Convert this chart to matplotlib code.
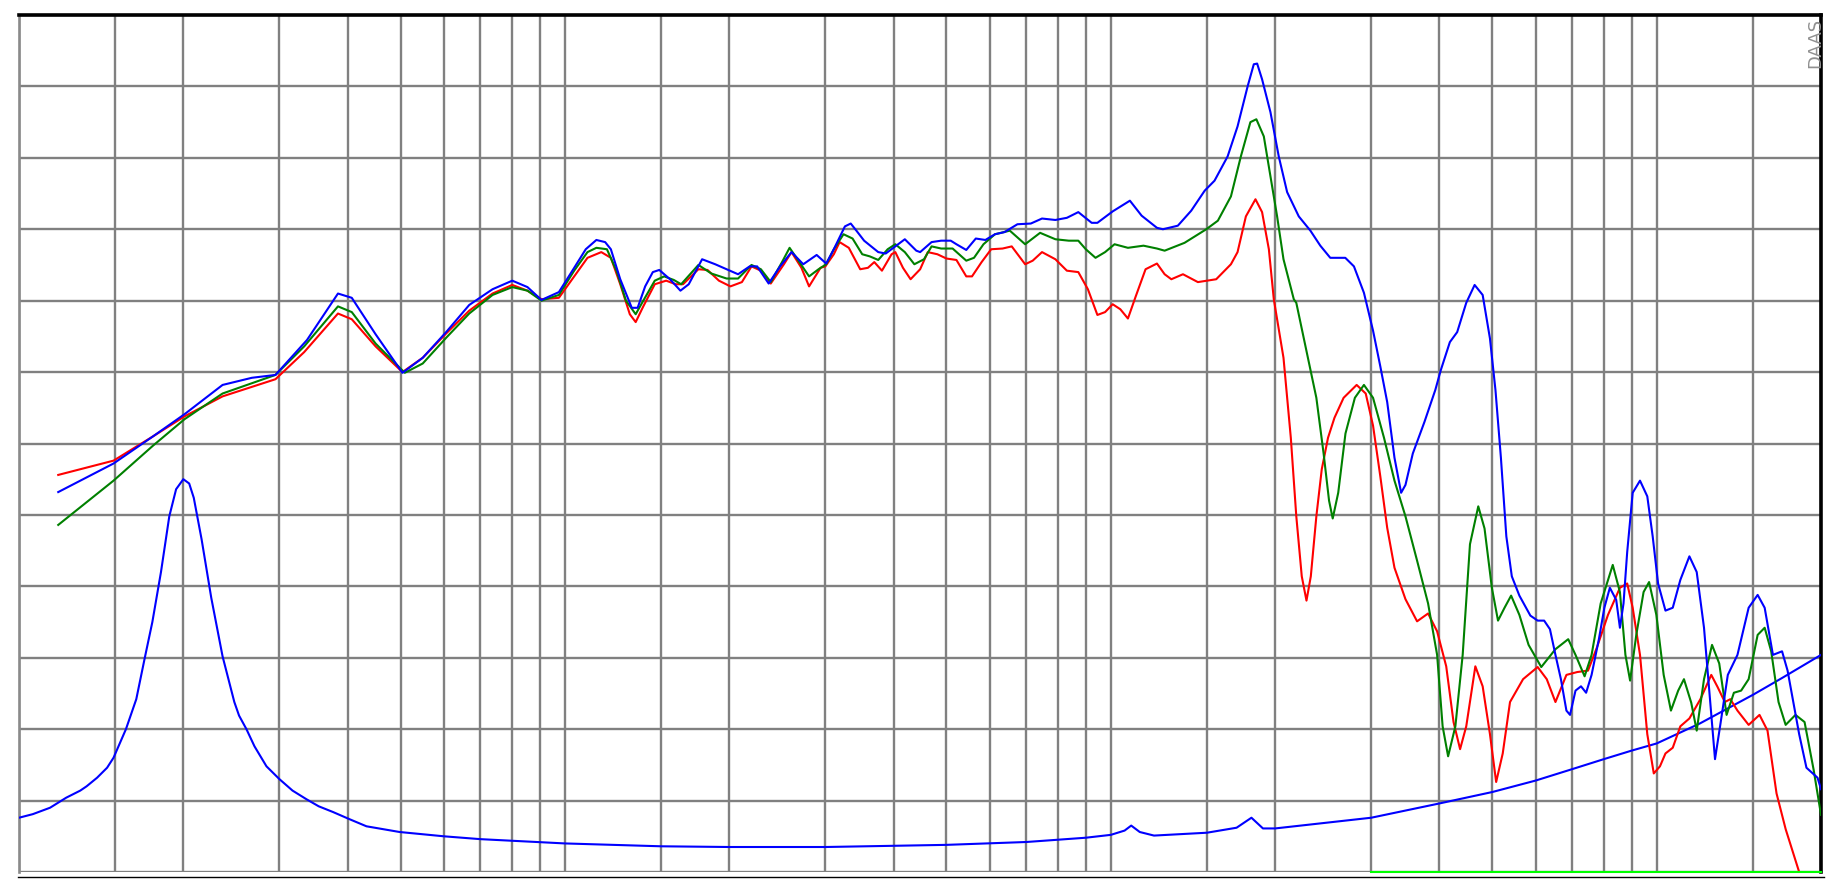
import matplotlib
matplotlib.use("Agg")
import matplotlib.pyplot as plt
from matplotlib.ticker import NullLocator, FixedLocator
from matplotlib.lines import Line2D

# ---------------- data (frequency in Hz, level in dB) ----------------
red_points = [
    (11.8, 67.8), (14.9, 68.8), (17.6, 70.5), (20.1, 71.9), (23.6, 73.3), (29.5, 74.5),
    (33.3, 76.4), (38.4, 79.1), (40.7, 78.7), (45.0, 76.8), (50.4, 75.0), (54.9, 76.0),
    (60.6, 77.7), (66.8, 79.3), (73.7, 80.5), (80.1, 81.1), (85.4, 80.7), (90.6, 80.1),
    (97.5, 80.2), (104, 81.7), (110, 83.0), (116.6, 83.4), (121.4, 83.0), (126.3, 81.15),
    (131.5, 79.05), (134.8, 78.5), (139.2, 79.6), (146.1, 81.15), (153.3, 81.4), (159.6, 81.15),
    (164.6, 81.15), (175.6, 82.2), (182.5, 82.15), (191.5, 81.4), (201, 81.0), (211, 81.3),
    (219.7, 82.4), (228.6, 82.1), (238.3, 81.2), (251.9, 82.55), (260.1, 83.4), (271.2, 82.3),
    (280.1, 81.0), (294, 82.3), (300, 82.4), (310.9, 83.25), (318.6, 84.1), (331.2, 83.7),
    (347.5, 82.2), (359, 82.3), (368.8, 82.7), (380.9, 82.1), (396.7, 83.25), (403, 83.4),
    (416.2, 82.3), (429.8, 81.5), (447.5, 82.2), (462.1, 83.4), (481.2, 83.25), (500, 82.95),
    (521.5, 82.85), (543.6, 81.7), (556.9, 81.7), (579.9, 82.7), (603.8, 83.6), (633.5, 83.65),
    (658.5, 83.8), (696.8, 82.55), (719.4, 82.8), (748.2, 83.4), (791.6, 82.9), (830.9, 82.1),
    (872, 82.0), (908, 80.8), (945.1, 79.0), (976.3, 79.2), (1008, 79.75), (1041, 79.4),
    (1075, 78.75), (1111, 80.3), (1158, 82.2), (1215, 82.6), (1255, 81.85), (1291, 81.5),
    (1356, 81.85), (1444, 81.3), (1560, 81.5), (1660, 82.55), (1707, 83.4), (1768, 85.9),
    (1841, 87.1), (1893, 86.2), (1948, 83.6), (1989, 80.1), (2072, 76.0), (2137, 70.4),
    (2187, 64.9), (2238, 60.7), (2283, 59.0), (2325, 60.7), (2380, 64.9), (2435, 68.2),
    (2500, 70.4), (2569, 71.8), (2670, 73.2), (2821, 74.1), (2931, 73.5), (3023, 71.25),
    (3117, 67.7), (3209, 64.1), (3309, 61.3), (3466, 59.1), (3640, 57.55), (3813, 58.1),
    (3961, 56.85), (4116, 54.4), (4245, 50.5), (4364, 48.6), (4479, 50.2), (4654, 54.4),
    (4800, 53.0), (4950, 49.65), (5081, 46.3), (5224, 48.3), (5387, 51.9), (5692, 53.5),
    (6053, 54.35), (6290, 53.5), (6525, 51.9), (6834, 53.8), (7155, 54.0), (7485, 54.1),
    (7777, 55.75), (8143, 58.0), (8564, 59.9), (8831, 60.2), (9038, 58.5), (9321, 55.2),
    (9612, 49.65), (9879, 46.9), (10140, 47.4), (10378, 48.3), (10702, 48.7), (11050, 50.2),
    (11480, 50.75), (12025, 52.1), (12590, 53.8), (12930, 52.95), (13330, 51.9), (13645, 52.1),
    (14060, 51.3), (14740, 50.3), (15430, 51.0), (15960, 49.9), (16580, 45.5), (17230, 43.0),
    (18240, 40.0),
]

green_points = [
    (11.8, 64.3), (14.9, 67.4), (17.6, 69.85), (20.1, 71.7), (23.6, 73.5), (29.5, 74.8),
    (33.3, 76.8), (38.4, 79.6), (40.7, 79.2), (45.0, 77.0), (50.9, 74.95), (54.9, 75.6),
    (60.6, 77.4), (66.8, 79.1), (73.7, 80.4), (80.1, 80.95), (85.4, 80.7), (90.6, 80.0),
    (97.5, 80.4), (104, 82.1), (110, 83.4), (114.2, 83.7), (119.4, 83.6), (124.3, 82.1),
    (129.4, 80.0), (134.8, 79.05), (139.2, 80.0), (146.1, 81.4), (152, 81.7), (158.3, 81.45),
    (163.3, 81.15), (175.6, 82.5), (185.5, 81.9), (197.8, 81.55), (207.6, 81.55), (219.7, 82.5),
    (228.6, 82.2), (238.3, 81.3), (249.9, 82.7), (258, 83.7), (268.9, 82.7), (280.1, 81.7),
    (291.5, 82.2), (301.1, 82.55), (310.9, 83.6), (323.9, 84.65), (336.5, 84.35), (350.5, 83.25),
    (361.9, 83.1), (375, 82.85), (390.2, 83.6), (403, 83.95), (419.5, 83.4), (436.7, 82.55),
    (454.8, 82.9), (469.6, 83.8), (489, 83.65), (513.2, 83.65), (543.6, 82.8), (561.6, 83.0),
    (584.5, 83.95), (613.5, 84.65), (653.3, 84.9), (696.8, 83.95), (742.2, 84.75), (791.6, 84.3),
    (837.6, 84.2), (872, 84.2), (900, 83.6), (937.6, 83.0), (976.3, 83.4), (1016, 83.95),
    (1075, 83.7), (1148, 83.85), (1215, 83.65), (1255, 83.5), (1365, 84.05), (1496, 85.0),
    (1571, 85.6), (1660, 87.3), (1731, 90.1), (1802, 92.5), (1848, 92.7), (1907, 91.5),
    (1961, 88.7), (2017, 85.9), (2072, 82.9), (2164, 80.1), (2187, 79.85), (2289, 76.25),
    (2380, 73.2), (2454, 69.3), (2511, 66.0), (2550, 64.75), (2610, 66.55), (2691, 70.7),
    (2800, 73.2), (2909, 74.1), (3023, 73.2), (3166, 70.4), (3309, 67.4), (3466, 64.9),
    (3640, 61.8), (3813, 58.8), (3961, 55.2), (4054, 50.2), (4149, 48.1), (4278, 50.2),
    (4412, 55.2), (4550, 62.95), (4712, 65.6), (4838, 64.05), (4990, 59.9), (5121, 57.6),
    (5264, 58.5), (5412, 59.35), (5604, 58.0), (5826, 55.9), (6146, 54.35), (6525, 55.6),
    (6886, 56.3), (7101, 55.2), (7379, 53.7), (7599, 55.2), (7896, 58.8), (8309, 61.5),
    (8564, 59.6), (8765, 55.2), (8940, 53.4), (9176, 56.6), (9463, 59.6), (9685, 60.3),
    (9987, 58.0), (10300, 53.8), (10620, 51.3), (10950, 52.7), (11220, 53.5), (11570, 51.85),
    (11840, 49.9), (12210, 53.5), (12630, 55.9), (13020, 54.6), (13430, 51.0), (13850, 52.55),
    (14280, 52.7), (14740, 53.5), (15310, 56.6), (15770, 57.1), (16210, 55.45), (16720, 51.9),
    (17230, 50.3), (17960, 51.0), (18660, 50.5), (19390, 47.15), (20000, 44.0),
]

blue_points = [
    (11.8, 66.6), (14.9, 68.6), (17.6, 70.5), (20.1, 72.05), (23.6, 74.1), (26.7, 74.6),
    (29.5, 74.8), (33.7, 77.25), (38.4, 80.5), (40.7, 80.2), (45.0, 77.65), (50.4, 74.95),
    (54.9, 76.0), (60.6, 77.8), (66.8, 79.7), (73.7, 80.8), (80.1, 81.4), (85.4, 80.95),
    (90.6, 80.05), (97.5, 80.6), (104, 82.3), (109.2, 83.6), (114.2, 84.25), (118.5, 84.1),
    (121.4, 83.6), (126.3, 81.5), (132.6, 79.5), (135.9, 79.5), (140.3, 81.0), (144.9, 82.0),
    (148.9, 82.15), (155.8, 81.5), (162.8, 80.7), (168.6, 81.15), (178.4, 82.9), (188.5, 82.55),
    (197.8, 82.2), (207.6, 81.85), (218, 82.4), (225, 82.4), (236.2, 81.2), (247.9, 82.4),
    (260.1, 83.4), (273.3, 82.55), (289.2, 83.2), (301.1, 82.6), (310.9, 83.6), (325.8, 85.2),
    (333.9, 85.4), (342, 84.9), (353.3, 84.2), (375, 83.4), (387, 83.3), (403, 83.8),
    (419.5, 84.3), (440.3, 83.5), (447.5, 83.4), (469.6, 84.1), (489, 84.2), (509.1, 84.2),
    (521.5, 83.95), (543.6, 83.55), (565.9, 84.35), (589.2, 84.25), (613.5, 84.65), (638.6, 84.8),
    (674.5, 85.35), (713.7, 85.4), (748.2, 85.75), (791.6, 85.65), (830.9, 85.8), (872, 86.2),
    (922.6, 85.45), (945.1, 85.45), (1008, 86.25), (1084, 87.0), (1139, 85.95), (1215, 85.1),
    (1246, 85.0), (1327, 85.25), (1404, 86.3), (1486, 87.7), (1549, 88.4), (1637, 90.1),
    (1707, 92.2), (1781, 95.0), (1828, 96.55), (1854, 96.6), (1893, 95.5), (1961, 93.2),
    (2031, 90.1), (2104, 87.6), (2210, 85.9), (2321, 84.9), (2420, 83.85), (2524, 83.0),
    (2689, 83.0), (2789, 82.4), (2909, 80.55), (3023, 77.9), (3117, 75.4), (3209, 72.9),
    (3309, 69.0), (3403, 66.55), (3466, 67.1), (3575, 69.3), (3754, 71.5), (3931, 73.75),
    (4024, 75.15), (4180, 77.1), (4311, 77.8), (4479, 79.85), (4640, 81.1), (4800, 80.4),
    (4950, 77.35), (5066, 73.75), (5184, 69.0), (5304, 63.5), (5428, 60.7), (5604, 59.35),
    (5870, 57.95), (6053, 57.6), (6221, 57.6), (6375, 57.0), (6525, 55.2), (6677, 53.5),
    (6834, 51.3), (6939, 51.0), (7101, 52.7), (7267, 53.0), (7426, 52.55), (7599, 53.8),
    (7837, 56.3), (8020, 58.5), (8208, 59.9), (8431, 59.05), (8564, 57.1), (8695, 58.8),
    (8831, 62.4), (9038, 66.55), (9321, 67.4), (9612, 66.3), (9833, 63.5), (10060, 60.2),
    (10378, 58.3), (10702, 58.5), (11050, 60.45), (11480, 62.1), (11840, 61.0), (12210, 57.1),
    (12590, 51.0), (12790, 47.9), (13090, 50.4), (13500, 53.8), (14060, 55.2), (14740, 58.5),
    (15310, 59.4), (15770, 58.5), (16330, 55.2), (16970, 55.45), (17370, 54.1), (18240, 49.65),
    (18810, 47.3), (19710, 46.6), (20000, 45.8),
]

impedance_points = [
    (10, 43.8), (10.6, 44.05), (11.4, 44.5), (12.2, 45.2), (12.95, 45.7), (13.3, 46.0),
    (13.9, 46.6), (14.5, 47.3), (14.9, 48.0), (15.7, 50.0), (16.4, 52.1), (17.0, 55.0),
    (17.55, 57.5), (18.2, 61.0), (18.85, 64.9), (19.4, 66.8), (20.0, 67.5), (20.5, 67.2),
    (20.9, 66.2), (21.6, 63.3), (22.5, 59.2), (23.6, 55.1), (24.8, 51.9), (25.3, 50.95),
    (26.1, 50.0), (27.0, 48.8), (28.4, 47.4), (30.0, 46.5), (31.7, 45.7), (33.6, 45.1),
    (35.4, 44.6), (37.6, 44.2), (40.3, 43.7), (43.3, 43.2), (49.8, 42.8), (60, 42.5),
    (70, 42.3), (100, 42.0), (150, 41.8), (200, 41.75), (300, 41.75), (500, 41.9),
    (700, 42.1), (900, 42.4), (1000, 42.6), (1060, 42.9), (1090, 43.25), (1130, 42.8),
    (1200, 42.55), (1500, 42.75), (1700, 43.1), (1810, 43.8), (1900, 43.05), (2000, 43.05),
    (3000, 43.8), (4000, 44.8), (5000, 45.6), (6000, 46.4), (7000, 47.2), (8000, 47.9),
    (9000, 48.5), (10000, 49.0), (12000, 50.4), (15000, 52.4), (17000, 53.6), (20000, 55.2),
]

baseline_points = [(3000, 40.0), (20000, 40.0)]

label_text = "DAAS"

# ---------------- figure ----------------
W, H = 1842, 895
fig = plt.figure(figsize=(W / 100, H / 100), dpi=100)
fig.patch.set_facecolor("white")
ax = fig.add_axes([19 / W, (H - 873) / H, (1821 - 19) / W, (873 - 16) / H])
ax.set_xscale("log")
ax.set_xlim(10, 20000)
ax.set_ylim(40, 100)

grid_f = []
for dec in (10, 100, 1000, 10000):
    for m in (1, 1.5, 2, 3, 4, 5, 6, 7, 8, 9):
        grid_f.append(dec * m)
ax.xaxis.set_major_locator(FixedLocator(grid_f))
ax.xaxis.set_minor_locator(NullLocator())
ax.yaxis.set_major_locator(FixedLocator(list(range(40, 101, 5))))
ax.yaxis.set_minor_locator(NullLocator())
ax.tick_params(which="both", length=0, labelbottom=False, labelleft=False)
ax.grid(True, color="#808080", linewidth=1.7)
ax.set_axisbelow(True)

for side in ("top", "right"):
    ax.spines[side].set_color("black")
    ax.spines[side].set_linewidth(2.6)
ax.spines["left"].set_color("#8a8a8a")
ax.spines["left"].set_linewidth(1.9)
ax.spines["bottom"].set_visible(False)


def split(points):
    return [p[0] for p in points], [p[1] for p in points]


f, v = split(impedance_points)
ax.plot(f, v, color="#0000ff", lw=1.5, zorder=3)
f, v = split(red_points)
ax.plot(f, v, color="#ff0000", lw=1.5, zorder=4)
f, v = split(green_points)
ax.plot(f, v, color="#008000", lw=1.5, zorder=5)
f, v = split(blue_points)
ax.plot(f, v, color="#0000ff", lw=1.5, zorder=6)
f, v = split(baseline_points)
ax.plot(f, v, color="#00ff00", lw=1.5, zorder=6, clip_on=False)

# bottom black rule slightly below the plot area
fig.add_artist(Line2D([18 / W, 1824 / W], [(H - 878) / H] * 2, color="black", lw=1.0))

fig.text(1815 / W, (H - 18) / H, label_text, rotation=90, ha="center", va="top",
         color="#909090", fontsize=13, family="DejaVu Sans")

fig.savefig("out.png", dpi=100, facecolor="white")
